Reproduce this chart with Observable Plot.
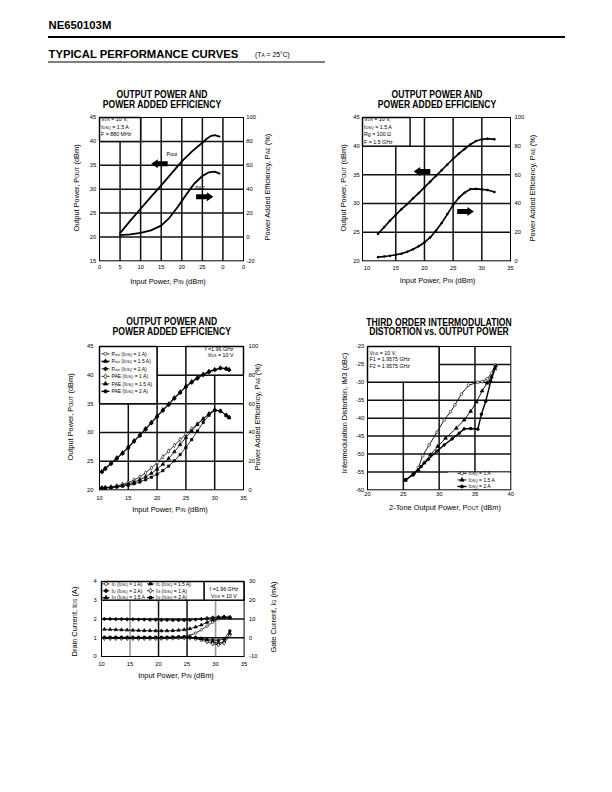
<!DOCTYPE html>
<html><head><meta charset="utf-8">
<script src="https://cdn.jsdelivr.net/npm/d3@7"></script>
<script src="https://cdn.jsdelivr.net/npm/@observablehq/plot@0.6"></script>
<style>
html,body{margin:0;padding:0;background:#fff;}
#page{position:relative;width:612px;height:792px;overflow:hidden;font-family:"Liberation Sans",Arial,Helvetica,sans-serif;color:#000;}
</style></head>
<body><div id="page"></div>
<script>
const FONT = '"Liberation Sans", Arial, Helvetica, sans-serif';
const GRID = "#111111";

// ================= Chart 1 : 880 MHz =================
const c1Title = ["OUTPUT POWER AND", "POWER ADDED EFFICIENCY"];
const c1XTicks = [0, 5, 10, 15, 20, 25, 30, 35];
const c1XLabels = ["0", "5", "10", "15", "20", "25", "0", "0"];
const c1YTicks = [15, 20, 25, 30, 35, 40, 45];
const c1PaeTicks = [-20, 0, 20, 40, 60, 80, 100];
const c1Pin  = [5, 7.5, 10, 12.5, 15, 17.5, 20, 22.5, 25, 26, 27, 28, 29.2];
const c1Pout = [20.8, 23.4, 25.9, 28.4, 30.8, 33.3, 35.8, 37.9, 39.7, 40.5, 41.1, 41.3, 41.0];
const c1PaePin = [5, 7.5, 10, 12.5, 15, 17, 19, 21, 23, 25, 26.5, 28, 29.2];
const c1Pae  = [1.5, 2.2, 3.3, 5.5, 9.5, 16, 25, 35, 44.5, 51, 54, 54.6, 53];
const c1Notes = ["V<span class=s>DS</span> = 10 V,", "I<span class=s>DSQ</span> = 1.5 A", "F = 880 MHz"];

// ================= Chart 2 : 1.5 GHz =================
const c2Title = ["OUTPUT POWER AND", "POWER ADDED EFFICIENCY"];
const c2XTicks = [10, 15, 20, 25, 30, 35];
const c2YTicks = [20, 25, 30, 35, 40, 45];
const c2PaeTicks = [0, 20, 40, 60, 80, 100];
const c2Pin  = [11.9, 13, 14, 15, 16, 17, 18, 19, 20, 21, 22, 23, 24, 25, 26, 27, 28, 29, 30, 31, 32.2];
const c2Pout = [24.7, 25.9, 27.0, 28.0, 29.0, 29.9, 30.9, 31.8, 32.8, 33.8, 34.8, 35.8, 36.8, 37.8, 38.7, 39.5, 40.3, 40.9, 41.2, 41.3, 41.2];
const c2Pae  = [2.5, 3.0, 3.5, 4.2, 5.0, 6.3, 8.0, 10.2, 12.8, 16.3, 21, 26.3, 32.6, 39, 44, 47.5, 50, 50.2, 49.8, 49.4, 48];
const c2Notes = ["V<span class=s>DS</span> = 10 V,", "I<span class=s>DSQ</span> = 1.5 A", "Rg = 100 Ω", "F = 1.5 GHz"];

// ================= Chart 3 : 1.96 GHz =================
const c3Title = ["OUTPUT POWER AND", "POWER ADDED EFFICIENCY"];
const c3XTicks = [10, 15, 20, 25, 30, 35];
const c3YTicks = [20, 25, 30, 35, 40, 45];
const c3PaeTicks = [0, 20, 40, 60, 80, 100];
const c3Pin    = [10.4, 11, 12, 13, 14, 15, 16, 17, 18, 19, 20, 21, 22, 23, 24, 25, 26, 27, 28, 29, 30, 31, 32, 32.5];
const c3Pout1  = [23.1, 23.7, 24.6, 25.5, 26.4, 27.4, 28.5, 29.5, 30.6, 31.7, 32.8, 33.9, 34.9, 36.0, 37.0, 38.0, 38.8, 39.5, 40.1, 40.6, 40.9, 41.2, 41.1, 40.9];
const c3Pout15 = [23.2, 23.8, 24.7, 25.6, 26.5, 27.5, 28.6, 29.6, 30.7, 31.8, 32.9, 34.0, 35.0, 36.1, 37.1, 38.1, 38.9, 39.6, 40.2, 40.7, 41.0, 41.3, 41.2, 41.0];
const c3Pout2  = [23.1, 23.6, 24.5, 25.4, 26.3, 27.3, 28.4, 29.4, 30.5, 31.6, 32.7, 33.8, 34.8, 35.9, 36.9, 37.9, 38.7, 39.4, 40.0, 40.5, 40.9, 41.2, 41.1, 40.9];
const c3Pae1   = [1.4, 1.6, 2.1, 2.8, 3.8, 5.0, 6.8, 9.0, 11.8, 15.2, 19.0, 23.0, 27.0, 31.0, 35.0, 39.0, 42.5, 46.0, 49.5, 53.0, 56.0, 55.0, 52.0, 50.5];
const c3Pae15  = [1.3, 1.4, 1.7, 2.2, 3.0, 4.0, 5.3, 7.0, 9.0, 11.5, 14.4, 17.8, 21.8, 26.5, 31.5, 36.5, 41.0, 45.5, 49.5, 53.0, 55.5, 55.0, 52.0, 50.5];
const c3Pae2   = [1.2, 1.3, 1.5, 1.9, 2.5, 3.2, 4.2, 5.4, 7.0, 8.8, 10.9, 13.4, 16.5, 20.2, 24.6, 29.5, 35.0, 41.0, 47.0, 52.0, 55.5, 55.0, 52.0, 50.5];
const c3Legend = ["P<span class=s>out</span> (I<span class=s>DSQ</span> = 1 A)", "P<span class=s>out</span> (I<span class=s>DSQ</span> = 1.5 A)", "P<span class=s>out</span> (I<span class=s>DSQ</span> = 2 A)",
                  "PAE (I<span class=s>DSQ</span> = 1 A)", "PAE (I<span class=s>DSQ</span> = 1.5 A)", "PAE (I<span class=s>DSQ</span> = 2 A)"];
const c3Notes = ["f =1.96 GHz", "V<span class=s>DS</span> = 10 V"];

// ================= Chart 4 : IM3 =================
const c4Title = ["THIRD ORDER INTERMODULATION", "DISTORTION vs. OUTPUT POWER"];
const c4XTicks = [20, 25, 30, 35, 40];
const c4YTicks = [-60, -55, -50, -45, -40, -35, -30, -25, -20];
const c4Pout1 = [25.3, 26.3, 27.1, 27.7, 28.6, 29.7, 30.7, 31.6, 32.2, 33.1, 34.1, 35.4, 36.0, 36.7, 37.3, 37.8];
const c4Im1   = [-57.2, -55.9, -53.8, -50.5, -47.5, -43.9, -40.5, -38.2, -36.3, -33.3, -30.8, -30.0, -29.8, -29.0, -27.5, -25.2];
const c4Pout15 = [25.3, 26.3, 27.1, 27.9, 28.8, 29.8, 30.9, 32.4, 33.5, 34.4, 35.2, 36.0, 36.7, 37.3, 37.8];
const c4Im15   = [-57.3, -55.8, -54.5, -52.5, -50.2, -47.9, -45.6, -42.8, -40.5, -38.1, -35.5, -32.4, -30.2, -28.5, -26.2];
const c4Pout2 = [25.3, 26.5, 27.5, 28.5, 29.7, 30.7, 31.8, 32.8, 33.5, 34.4, 35.4, 35.9, 36.5, 37.2, 37.9];
const c4Im2   = [-57.3, -55.5, -53.5, -51.5, -49.2, -47.5, -45.8, -44.2, -43.0, -42.9, -43.1, -38.9, -35.3, -29.7, -25.5];
const c4Legend = ["I<span class=s>DSQ</span> = 1 A", "I<span class=s>DSQ</span> = 1.5 A", "I<span class=s>DSQ</span> = 2 A"];
const c4Notes = ["V<span class=s>DS</span> = 10 V,", "F1 = 1.9575 GHz", "F2 = 1.9575 GHz"];

// ================= Chart 5 : currents =================
const c5XTicks = [10, 15, 20, 25, 30, 35];
const c5YTicks = [0, 1, 2, 3, 4];
const c5IgTicks = [-10, 0, 10, 20, 30];
const c5Pin   = [10.5, 11.5, 12.5, 13.5, 14.5, 15.5, 16.5, 17.5, 18.5, 19.5, 20.5, 21.5, 22.5, 23.5, 24.5, 25.5, 26.5, 27.5, 28.5, 29.5, 30.5, 31.5, 32.5];
const c5Id1   = [0.98, 0.98, 0.98, 0.97, 0.97, 0.97, 0.97, 0.97, 0.97, 0.97, 0.97, 0.98, 0.99, 1.01, 1.05, 1.12, 1.25, 1.42, 1.62, 1.83, 2.0, 2.08, 2.05];
const c5Id15  = [1.45, 1.44, 1.43, 1.42, 1.41, 1.40, 1.39, 1.38, 1.38, 1.37, 1.37, 1.37, 1.38, 1.40, 1.43, 1.48, 1.57, 1.68, 1.82, 1.95, 2.05, 2.10, 2.07];
const c5Id2   = [2.0, 2.0, 1.99, 1.99, 1.98, 1.98, 1.97, 1.97, 1.96, 1.96, 1.95, 1.95, 1.94, 1.94, 1.94, 1.95, 1.97, 2.0, 2.04, 2.08, 2.1, 2.12, 2.1];
const c5Ig1   = [-0.4, -0.4, -0.4, -0.4, -0.4, -0.4, -0.4, -0.4, -0.4, -0.4, -0.3, -0.3, -0.2, -0.1, -0.1, -0.2, -0.5, -1.2, -2.2, -3.2, -3.8, -2.8, 1.0];
const c5Ig15  = [0, 0, 0, 0, 0, 0, 0, 0, 0, 0, 0, 0, 0, 0.1, 0.2, 0.2, 0, -0.4, -1.2, -2.2, -2.9, -2.0, 2.2];
const c5Ig2   = [0.2, 0.2, 0.2, 0.2, 0.2, 0.2, 0.2, 0.2, 0.2, 0.2, 0.2, 0.3, 0.4, 0.5, 0.5, 0.3, 0, -0.5, -1.0, -1.2, -1.4, -0.6, 3.6];
const c5Legend1 = ["I<span class=s>D</span> (I<span class=s>DSQ</span> = 1 A)", "I<span class=s>D</span> (I<span class=s>DSQ</span> = 2 A)", "I<span class=s>G</span> (I<span class=s>DSQ</span> = 1.5 A"];
const c5Legend2 = ["I<span class=s>D</span> (I<span class=s>DSQ</span> = 1.5 A)", "I<span class=s>G</span> (I<span class=s>DSQ</span> = 1 A)", "I<span class=s>G</span> (I<span class=s>DSQ</span> = 2 A)"];
const c5Notes = ["f =1.96 GHz", "V<span class=s>DS</span> = 10 V"];

// ================= helpers =================
const page = document.getElementById("page");
const paeToY = v => 20 + v / 4;
const igToY = v => 1 + v / 10;
const rows = (xs, ys, f = v => v) => xs.map((x, i) => ({x, y: f(ys[i])}));
const inner = (t) => t.slice(1, -1);

function gridX(vals, y0, y1, stroke = GRID, sw = 1.5) {
  return Plot.link(vals, {x1: d => d, x2: d => d, y1: () => y0, y2: () => y1, stroke, strokeWidth: sw});
}
function gridY(vals, x0, x1, stroke = GRID, sw = 1.5) {
  return Plot.link(vals, {y1: d => d, y2: d => d, x1: () => x0, x2: () => x1, stroke, strokeWidth: sw});
}
function box(x1, x2, y1, y2, stroke = GRID) {
  const m = [Plot.rect([{x1, x2, y1, y2}], {x1: "x1", x2: "x2", y1: "y1", y2: "y2", fill: "white"})];
  if (stroke !== "none") {
    m.push(Plot.link([[x1, y1, x2, y1], [x2, y1, x2, y2], [x2, y2, x1, y2], [x1, y2, x1, y1]],
      {x1: d => d[0], y1: d => d[1], x2: d => d[2], y2: d => d[3], stroke, strokeWidth: 1.5}));
  }
  return m;
}
function blockArrows(data) {
  return (index, scales) => {
    const g = d3.create("svg:g");
    for (const a of data) {
      const xt = scales.x(a.tip), xb = scales.x(a.tail), y = scales.y(a.y);
      const dir = Math.sign(xt - xb), hl = 6.5 * dir, bh = 2.5, hh = 4.5, xn = xt - hl;
      g.append("path").attr("fill", "black")
        .attr("d", `M${xb},${y - bh}L${xn},${y - bh}L${xn},${y - hh}L${xt},${y}L${xn},${y + hh}L${xn},${y + bh}L${xb},${y + bh}Z`);
    }
    return g.node();
  };
}
function curve(data, sw, symbol, fill, r = 1.5) {
  const m = [Plot.line(data, {x: "x", y: "y", stroke: "black", strokeWidth: sw, curve: "linear"})];
  if (symbol) m.push(Plot.dot(data, {x: "x", y: "y", symbol, r, fill, stroke: "black", strokeWidth: 0.6}));
  return m;
}
function makePlot(c) {
  const ml = 40, mr = 40, mt = 4, mb = 20;
  const marks = [
    ...c.marks,
    Plot.frame({stroke: "black", strokeWidth: 1}),
    Plot.axisX({ticks: c.xTicks, tickFormat: c.xFormat || (d => String(d)), tickSize: 0, tickPadding: c.padB, label: null}),
    Plot.axisY({ticks: c.yTicks, tickFormat: d => String(d), tickSize: 0, tickPadding: c.padL, label: null})
  ];
  if (c.rTicks) {
    const pos = c.rTicks.map(c.rMap);
    marks.push(Plot.axisY({anchor: "right", ticks: pos, tickFormat: d => String(c.rTicks[pos.indexOf(d)]), tickSize: 0, tickPadding: c.padR, label: null}));
  }
  const svg = Plot.plot({
    width: c.fw + ml + mr, height: c.fh + mt + mb,
    marginLeft: ml, marginRight: mr, marginTop: mt, marginBottom: mb,
    style: {fontFamily: FONT, fontSize: "5.8px", background: "none", overflow: "visible", color: "black"},
    x: {domain: c.xDomain}, y: {domain: c.yDomain},
    marks
  });
  svg.style.position = "absolute";
  svg.style.left = (c.fx - ml) + "px";
  svg.style.top = (c.fy - mt) + "px";
  page.appendChild(svg);
  return svg;
}

// ---------- text overlay (plain SVG) ----------
let ov;
function rich(t, html, size) {
  for (const p of html.split(/(<span class=s>.*?<\/span>)/)) {
    if (!p) continue;
    const m = p.match(/^<span class=s>(.*)<\/span>$/);
    t.append("tspan").attr("font-size", m ? size * 0.72 : size).text(m ? m[1] : p);
  }
}
function T(x, y, html, size, o = {}) {
  const t = ov.append("text").attr("font-size", size).attr("fill", "black").style("white-space", "pre");
  if (o.transform) t.attr("transform", o.transform); else t.attr("x", x).attr("y", y);
  if (o.anchor) t.attr("text-anchor", o.anchor);
  if (o.weight) t.attr("font-weight", o.weight);
  if (o.dy) t.attr("dy", o.dy);
  rich(t, html, size);
  return t;
}
function title(lines, cx, top, lh) {
  lines.forEach((l, i) => T(0, 0, l, 10, {anchor: "middle", weight: "bold", transform: `translate(${cx},${top + lh * (i + 0.5) + 3.5}) scale(0.86,1)`}));
}
function notes(lines, x, top, lh, anchor) {
  lines.forEach((l, i) => T(x, top + lh * (i + 0.5) + 1.85, l, 5.3, {anchor}));
}
function axLabel(cx, cy, html, rot) {
  if (rot) T(0, 0, html, 7.4, {anchor: "middle", dy: "0.35em", transform: `translate(${cx},${cy}) rotate(-90)`});
  else T(cx, cy + 2.6, html, 7.4, {anchor: "middle"});
}
function legend(entries, x, top, lh, w) {
  entries.forEach((e, i) => {
    const cy = top + lh * (i + 0.5);
    ov.append("line").attr("x1", x).attr("x2", x + w).attr("y1", cy).attr("y2", cy).attr("stroke", "black").attr("stroke-width", e.lw);
    ov.append("path").attr("transform", `translate(${x + w / 2},${cy})`).attr("d", d3.symbol(e.sym, Math.PI * 1.6 * 1.6)())
      .attr("fill", e.fill).attr("stroke", "black").attr("stroke-width", 0.6);
    T(x + w + 2, cy + 1.75, e.label, 5);
  });
}

// ================= Chart 1 =================
makePlot({
  fx: 99.3, fy: 116.7, fw: 144, fh: 143.3,
  xDomain: [0, 35], yDomain: [15, 45],
  xTicks: c1XTicks, xFormat: d => c1XLabels[c1XTicks.indexOf(d)], yTicks: c1YTicks,
  rTicks: c1PaeTicks, rMap: paeToY, padB: 4, padL: 3.3, padR: 2.8,
  marks: [
    gridX(inner(c1XTicks), 15, 45),
    gridY(inner(c1YTicks), 0, 35),
    ...box(0, 10, 40, 45),
    ...curve(rows(c1Pin, c1Pout), 1.8),
    ...curve(rows(c1PaePin, c1Pae, paeToY), 1.8),
    blockArrows([{tail: 16.7, tip: 12.7, y: 35.2}, {tail: 23.6, tip: 27.8, y: 28.3}]),
    Plot.text([{x: 17.6, y: 37.2, t: "Pout"}, {x: 24.5, y: 30.1, t: "PAE"}], {x: "x", y: "y", text: "t", fontSize: 5.2, fill: "black"})
  ]
});

// ================= Chart 2 =================
makePlot({
  fx: 362, fy: 116.7, fw: 148, fh: 143.3,
  xDomain: [9.2, 35], yDomain: [20, 45],
  xTicks: c2XTicks, yTicks: c2YTicks,
  rTicks: c2PaeTicks, rMap: paeToY, padB: 5, padL: 2.8, padR: 4,
  marks: [
    gridX(inner(c2XTicks), 20, 45),
    gridY(inner(c2YTicks), 9.2, 35),
    ...box(9.2, 17.5, 40, 45),
    ...curve(rows(c2Pin, c2Pout), 1.7, d3.symbolCircle, "black", 1.0),
    ...curve(rows(c2Pin, c2Pae, paeToY), 1.7, d3.symbolCircle, "black", 1.0),
    blockArrows([{tail: 21.1, tip: 18.2, y: 35.5}, {tail: 25.8, tip: 28.7, y: 28.5}])
  ]
});

// ================= Chart 3 =================
const c3Series = [
  {d: rows(c3Pin, c3Pout1), sym: d3.symbolCircle, fill: "white", lw: 0.8},
  {d: rows(c3Pin, c3Pout15), sym: d3.symbolTriangle, fill: "black", lw: 1.4},
  {d: rows(c3Pin, c3Pout2), sym: d3.symbolCross, fill: "black", lw: 0.8},
  {d: rows(c3Pin, c3Pae1, paeToY), sym: d3.symbolDiamond, fill: "white", lw: 0.8},
  {d: rows(c3Pin, c3Pae15, paeToY), sym: d3.symbolTriangle, fill: "black", lw: 0.8},
  {d: rows(c3Pin, c3Pae2, paeToY), sym: d3.symbolSquare, fill: "black", lw: 1.4}
];
makePlot({
  fx: 99.3, fy: 345.7, fw: 144, fh: 143.3,
  xDomain: [10, 35], yDomain: [20, 45],
  xTicks: c3XTicks, yTicks: c3YTicks,
  rTicks: c3PaeTicks, rMap: paeToY, padB: 6, padL: 6, padR: 5,
  marks: [
    gridX(inner(c3XTicks), 20, 45),
    gridY(inner(c3YTicks), 10, 35),
    ...box(10, 20, 35, 45),
    ...box(25, 35, 40, 45),
    ...c3Series.flatMap(s => curve(s.d, 0.8, s.sym, s.fill, 1.35))
  ]
});

// ================= Chart 4 =================
const c4Series = [
  {d: rows(c4Pout1, c4Im1), sym: d3.symbolCircle, fill: "white", lw: 0.9},
  {d: rows(c4Pout15, c4Im15), sym: d3.symbolTriangle, fill: "black", lw: 0.9},
  {d: rows(c4Pout2, c4Im2), sym: d3.symbolCircle, fill: "black", lw: 1.4}
];
makePlot({
  fx: 366.7, fy: 345.7, fw: 143.3, fh: 143.3,
  xDomain: [20, 40], yDomain: [-60, -20],
  xTicks: c4XTicks, yTicks: c4YTicks, padB: 2.5, padL: 3.4,
  marks: [
    gridX(inner(c4XTicks), -60, -20),
    gridY(inner(c4YTicks), 20, 40),
    ...box(20, 30, -30, -20),
    ...box(31.3, 39.9, -59.9, -55.3, "none"),
    ...c4Series.flatMap(s => curve(s.d, s.lw, s.sym, s.fill, 1.4))
  ]
});

// ================= Chart 5 =================
const c5S = {
  id1:  {d: rows(c5Pin, c5Id1), sym: d3.symbolCircle, fill: "white", lw: 0.8},
  id2:  {d: rows(c5Pin, c5Id2), sym: d3.symbolCross, fill: "black", lw: 0.8},
  ig15: {d: rows(c5Pin, c5Ig15, igToY), sym: d3.symbolTriangle, fill: "black", lw: 1.2},
  id15: {d: rows(c5Pin, c5Id15), sym: d3.symbolTriangle, fill: "black", lw: 0.8},
  ig1:  {d: rows(c5Pin, c5Ig1, igToY), sym: d3.symbolDiamond, fill: "white", lw: 0.8},
  ig2:  {d: rows(c5Pin, c5Ig2, igToY), sym: d3.symbolSquare, fill: "black", lw: 1.2}
};
makePlot({
  fx: 100.7, fy: 581, fw: 142.6, fh: 75,
  xDomain: [10, 35], yDomain: [0, 4],
  xTicks: c5XTicks, yTicks: c5YTicks,
  rTicks: c5IgTicks, rMap: igToY, padB: 5.5, padL: 4.7, padR: 5,
  marks: [
    gridX([15, 30], 0, 4, "#9a9a9a", 1.6),
    gridX([20, 25], 0, 4),
    gridY(inner(c5YTicks), 10, 35),
    ...box(10, 28, 3, 4),
    ...box(28, 35, 3, 4),
    ...Object.values(c5S).flatMap(s => curve(s.d, 0.8, s.sym, s.fill, 1.3))
  ]
});

// ================= overlay texts =================
ov = d3.create("svg").attr("width", 612).attr("height", 792).attr("font-family", FONT)
  .style("position", "absolute").style("left", "0px").style("top", "0px").style("overflow", "visible");
page.appendChild(ov.node());

T(48.5, 29.3, "NE650103M", 11.3, {weight: "bold"});
ov.append("rect").attr("x", 48).attr("y", 36).attr("width", 517).attr("height", 2).attr("fill", "black");
T(48.5, 57.7, "TYPICAL PERFORMANCE CURVES", 11.3, {weight: "bold"});
T(255, 57.3, "(T<span class=s>A</span> = 25°C)", 6.8);
ov.append("rect").attr("x", 48).attr("y", 61.5).attr("width", 277).attr("height", 1).attr("fill", "black");

title(c1Title, 162, 88.8, 10.4);
notes(c1Notes, 101, 115.9, 7.2);
axLabel(168, 281, "Input Power, P<span class=s>IN</span> (dBm)");
axLabel(76, 188, "Output Power, P<span class=s>OUT</span> (dBm)", true);
axLabel(267.3, 187, "Power Added Efficiency, P<span class=s>AE</span> (%)", true);

title(c2Title, 437, 88.8, 10.4);
notes(c2Notes, 364, 115.2, 7.7);
axLabel(437.5, 280.5, "Input Power, P<span class=s>IN</span> (dBm)");
axLabel(343.3, 188, "Output Power, P<span class=s>OUT</span> (dBm)", true);
axLabel(532.3, 188, "Power Added Efficiency, P<span class=s>AE</span> (%)", true);

title(c3Title, 171.7, 316.6, 9.6);
legend(c3Series.map((s, i) => ({sym: s.sym, fill: s.fill, lw: s.lw, label: c3Legend[i]})), 101.5, 350.1, 7.5, 8);
notes(c3Notes, 233.5, 345.6, 6.2, "end");
axLabel(170, 509.5, "Input Power, P<span class=s>IN</span> (dBm)");
axLabel(70.7, 417, "Output Power, P<span class=s>OUT</span> (dBm)", true);
axLabel(257.5, 417, "Power Added Efficiency, P<span class=s>AE</span> (%)", true);

title(c4Title, 439, 317.3, 9.6);
notes(c4Notes, 369.5, 349.4, 6.7);
legend(c4Series.map((s, i) => ({sym: s.sym, fill: s.fill, lw: s.lw, label: c4Legend[i]})), 457.5, 470, 6.6, 9);
axLabel(445, 507.7, "2-Tone Output Power, P<span class=s>OUT</span> (dBm)");
axLabel(344, 413, "Intermodulation Distortion, IM3 (dBc)", true);

legend([c5S.id1, c5S.id2, c5S.ig15].map((s, i) => ({sym: s.sym, fill: s.fill, lw: s.lw, label: c5Legend1[i]})), 102.5, 580.4, 6.9, 7);
legend([c5S.id15, c5S.ig1, c5S.ig2].map((s, i) => ({sym: s.sym, fill: s.fill, lw: s.lw, label: c5Legend2[i]})), 147, 580.4, 6.9, 7);
notes(c5Notes, 224, 585.5, 7.2, "middle");
axLabel(176, 675, "Input Power, P<span class=s>IN</span> (dBm)");
axLabel(74, 621.5, "Drain Current, I<span class=s>DS</span> (A)", true);
axLabel(273.3, 617, "Gate Current, I<span class=s>G</span> (mA)", true);
</script>
</body></html>
